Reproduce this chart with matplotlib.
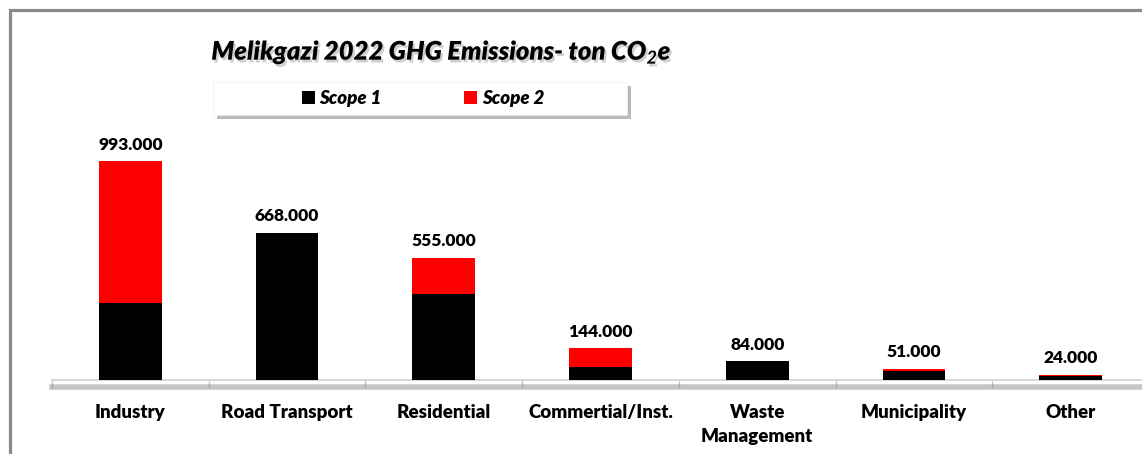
import matplotlib
matplotlib.use("Agg")
import matplotlib.pyplot as plt
import matplotlib.patheffects as pe
from matplotlib.patches import Rectangle, Patch

categories = ["Industry", "Road Transport", "Residential", "Commertial/Inst.",
              "Waste\nManagement", "Municipality", "Other"]
scope1 = [349, 668, 390, 59, 84, 39, 18]
scope2 = [644, 0, 165, 85, 0, 12, 6]
totals = [993, 668, 555, 144, 84, 51, 24]
series_names = ["Scope 1", "Scope 2"]
title = "Melikgazi 2022 GHG Emissions- ton CO$_2$e"

W, H = 1142, 454
fig = plt.figure(figsize=(W / 100, H / 100), dpi=100)
fig.patch.set_facecolor("white")

FONT = "Lato"
plt.rcParams["mathtext.fontset"] = "custom"
plt.rcParams["mathtext.rm"] = "Lato:italic:bold"
plt.rcParams["mathtext.it"] = "Lato:italic:bold"
plt.rcParams["mathtext.bf"] = "Lato:italic:bold"

def fx(px):
    return px / W

def fy(py):
    return 1 - py / H

# axes: left 52px, baseline 380px, top 118px; extends past right edge
ax = fig.add_axes([fx(52), fy(380), fx(1097), (380 - 118) / H])
x = list(range(len(categories)))
bw = 0.4
ax.bar(x, scope1, width=bw, color="black", zorder=3)
ax.bar(x, scope2, width=bw, bottom=scope1, color="#ff0000", zorder=3)

for xi, t in zip(x, totals):
    ax.annotate(f"{t:.3f}", (xi, t), xytext=(0, 6), textcoords="offset points",
                ha="center", va="bottom", fontsize=12.5, fontweight=800,
                family=FONT, color="black")

ax.set_xlim(-0.5, len(categories) - 0.5)
ax.set_ylim(0, 1188)
ax.set_xticks(x)
ax.set_xticklabels(categories, fontsize=13.5, fontweight=800, family=FONT,
                   linespacing=1.5)
ax.tick_params(axis="x", which="major", length=0, pad=17)
ax.set_xticks([i - 0.5 for i in range(len(categories) + 1)], minor=True)
ax.tick_params(axis="x", which="minor", length=6, width=1, color="#c8c8c8",
               direction="out")
ax.set_yticks([])
for s in ["left", "right", "top"]:
    ax.spines[s].set_visible(False)
ax.spines["bottom"].set_color("#d0d0d0")
ax.spines["bottom"].set_linewidth(1.2)
ax.spines["bottom"].set_path_effects([
    pe.SimpleLineShadow(offset=(0, -5), shadow_color="#808080", alpha=0.45,
                        linewidth=4),
    pe.Normal()])
ax.set_facecolor("none")

# outer chart frame (partially cropped)
frame = Rectangle((fx(9.5), -0.2), 1.2, fy(9.5) + 0.2, transform=fig.transFigure,
                  fill=False, edgecolor="#8a8a8a", linewidth=2.3, zorder=10)
fig.add_artist(frame)

# title
fig.text(fx(442), fy(52), title, ha="center", va="center", fontsize=18.5,
         fontweight=800, style="italic", family=FONT, color="black",
         path_effects=[pe.SimplePatchShadow(offset=(1.5, -2), shadow_rgbFace="#666666",
                                            alpha=0.3), pe.Normal()])

# legend box with shadow
lx0, ly0, lx1, ly1 = 213, 82, 627, 115
box = Rectangle((fx(lx0), fy(ly1)), fx(lx1 - lx0), (ly1 - ly0) / H,
                transform=fig.transFigure, facecolor="white", edgecolor="#f0f0f0",
                linewidth=0.5, zorder=4,
                path_effects=[pe.SimplePatchShadow(offset=(3, -3), shadow_rgbFace="#666666",
                                                   alpha=0.45), pe.Normal()])
fig.add_artist(box)
handles = [Patch(facecolor="black"), Patch(facecolor="#ff0000")]
leg = fig.legend(handles, series_names, loc="center",
                 bbox_to_anchor=(fx((lx0 + lx1) / 2 + 3), fy((ly0 + ly1) / 2)),
                 ncol=2, frameon=False, handlelength=0.7, handleheight=0.7,
                 handletextpad=0.25, columnspacing=4.4,
                 prop={"family": FONT, "weight": 800, "style": "italic", "size": 13.5})
leg.set_zorder(5)

fig.savefig("out.png", dpi=100, facecolor="white")
